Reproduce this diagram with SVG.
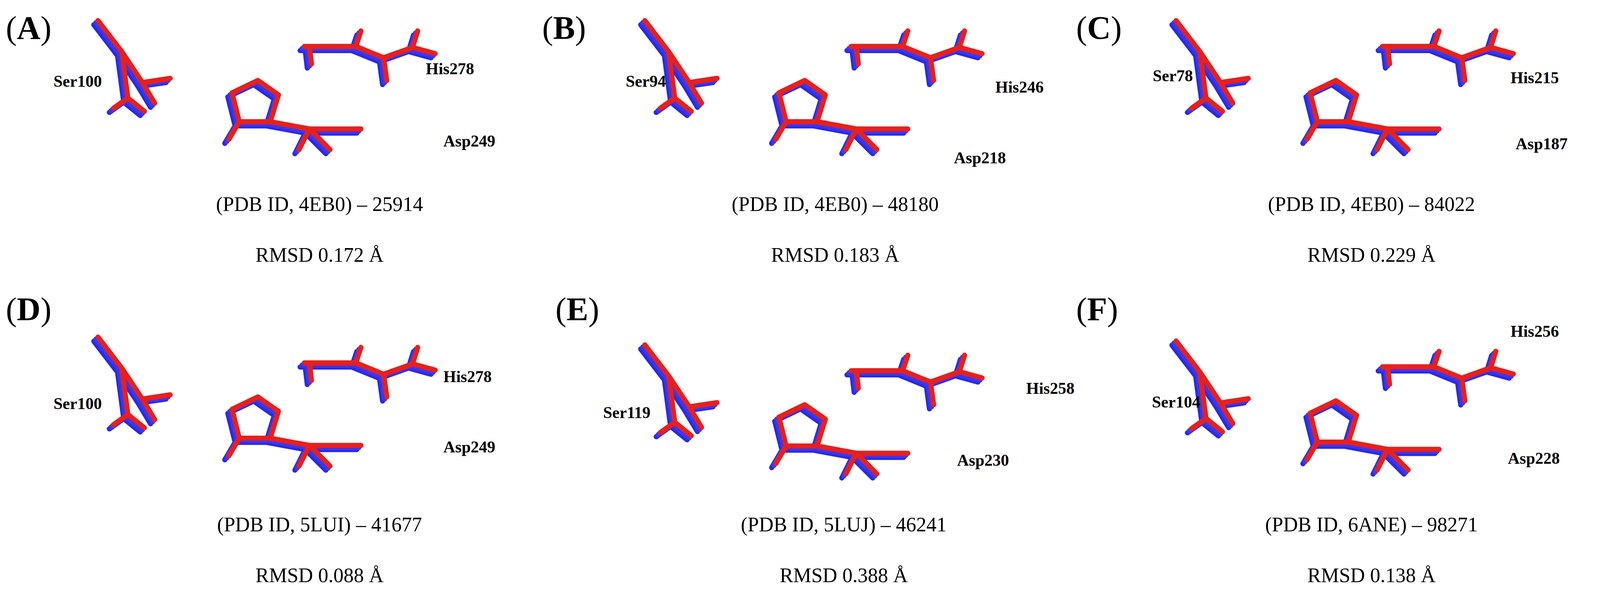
<svg xmlns="http://www.w3.org/2000/svg" width="4142" height="1528" viewBox="0 0 4142 1528">
<style>
.lb{font-family:"Liberation Serif",serif;font-weight:bold;font-size:42px;fill:#000}
.pl{font-family:"Liberation Serif",serif;font-size:84px;fill:#000}
.pl tspan{font-weight:bold}
.cp{font-family:"Liberation Serif",serif;font-size:52px;fill:#000;text-anchor:middle}
</style>
<defs>
<g id="mol" fill="none" stroke-width="5" stroke-linecap="round" stroke-linejoin="round">
<path d="M95,20 L118,50 L138,80 L165,76 M118,50 L124,95 M124,95 L110,105 M124,95 L140,108 M138,80 L150,100"/>
<path d="M295,45 L345,45 L372,56 L400,46 L422,52 M345,45 L350,30 M372,56 L375,78 M400,46 L405,30 M300,45 L302,62"/>
<path d="M225,90 L250,78 L270,92 L262,118 L232,118 Z M262,118 L300,125 L350,125 M300,125 L290,145 M300,125 L320,145 M232,118 L222,135"/>
</g>
</defs>
<g id="molecules">
<g id="molA"><g transform="scale(2.64)"><use href="#mol" stroke="#2a2ae8" transform="translate(-4,4)"/><use href="#mol" stroke="#3838f0" transform="translate(-2,2)"/><use href="#mol" stroke="#e8201c"/></g></g>
<g id="molB"><g transform="translate(1400,0) scale(2.64)"><use href="#mol" stroke="#2a2ae8" transform="translate(-4,4)"/><use href="#mol" stroke="#3838f0" transform="translate(-2,2)"/><use href="#mol" stroke="#e8201c"/></g></g>
<g id="molC"><g transform="translate(2760,0) scale(2.64)"><use href="#mol" stroke="#2a2ae8" transform="translate(-4,4)"/><use href="#mol" stroke="#3838f0" transform="translate(-2,2)"/><use href="#mol" stroke="#e8201c"/></g></g>
<g id="molD"><g transform="translate(0,810) scale(2.64)"><use href="#mol" stroke="#2a2ae8" transform="translate(-4,4)"/><use href="#mol" stroke="#3838f0" transform="translate(-2,2)"/><use href="#mol" stroke="#e8201c"/></g></g>
<g id="molE"><g transform="translate(1400,830) scale(2.64)"><use href="#mol" stroke="#2a2ae8" transform="translate(-4,4)"/><use href="#mol" stroke="#3838f0" transform="translate(-2,2)"/><use href="#mol" stroke="#e8201c"/></g></g>
<g id="molF"><g transform="translate(2760,820) scale(2.64)"><use href="#mol" stroke="#2a2ae8" transform="translate(-4,4)"/><use href="#mol" stroke="#3838f0" transform="translate(-2,2)"/><use href="#mol" stroke="#e8201c"/></g></g>
</g>
<g id="labels">
<text class="pl" x="15" y="100">(<tspan>A</tspan>)</text>
<text class="lb" x="137" y="222">Ser100</text>
<text class="lb" x="1090" y="190">His278</text>
<text class="lb" x="1135" y="375">Asp249</text>
<text class="cp" x="818" y="540">(PDB ID, 4EB0) – 25914</text>
<text class="cp" x="818" y="670">RMSD 0.172 Å</text>
<text class="pl" x="1388" y="100">(<tspan>B</tspan>)</text>
<text class="lb" x="1602" y="222">Ser94</text>
<text class="lb" x="2548" y="237">His246</text>
<text class="lb" x="2442" y="418">Asp218</text>
<text class="cp" x="2138" y="540">(PDB ID, 4EB0) – 48180</text>
<text class="cp" x="2138" y="670">RMSD 0.183 Å</text>
<text class="pl" x="2755" y="100">(<tspan>C</tspan>)</text>
<text class="lb" x="2951" y="208">Ser78</text>
<text class="lb" x="3867" y="213">His215</text>
<text class="lb" x="3880" y="382">Asp187</text>
<text class="cp" x="3511" y="540">(PDB ID, 4EB0) – 84022</text>
<text class="cp" x="3511" y="670">RMSD 0.229 Å</text>
<text class="pl" x="15" y="820">(<tspan>D</tspan>)</text>
<text class="lb" x="137" y="1047">Ser100</text>
<text class="lb" x="1135" y="978">His278</text>
<text class="lb" x="1135" y="1158">Asp249</text>
<text class="cp" x="818" y="1360">(PDB ID, 5LUI) – 41677</text>
<text class="cp" x="818" y="1490">RMSD 0.088 Å</text>
<text class="pl" x="1422" y="820">(<tspan>E</tspan>)</text>
<text class="lb" x="1544" y="1070">Ser119</text>
<text class="lb" x="2627" y="1008">His258</text>
<text class="lb" x="2450" y="1192">Asp230</text>
<text class="cp" x="2160" y="1360">(PDB ID, 5LUJ) – 46241</text>
<text class="cp" x="2160" y="1490">RMSD 0.388 Å</text>
<text class="pl" x="2755" y="820">(<tspan>F</tspan>)</text>
<text class="lb" x="3867" y="862">His256</text>
<text class="lb" x="2949" y="1043">Ser104</text>
<text class="lb" x="3860" y="1187">Asp228</text>
<text class="cp" x="3511" y="1360">(PDB ID, 6ANE) – 98271</text>
<text class="cp" x="3511" y="1490">RMSD 0.138 Å</text>
</g>
</svg>
